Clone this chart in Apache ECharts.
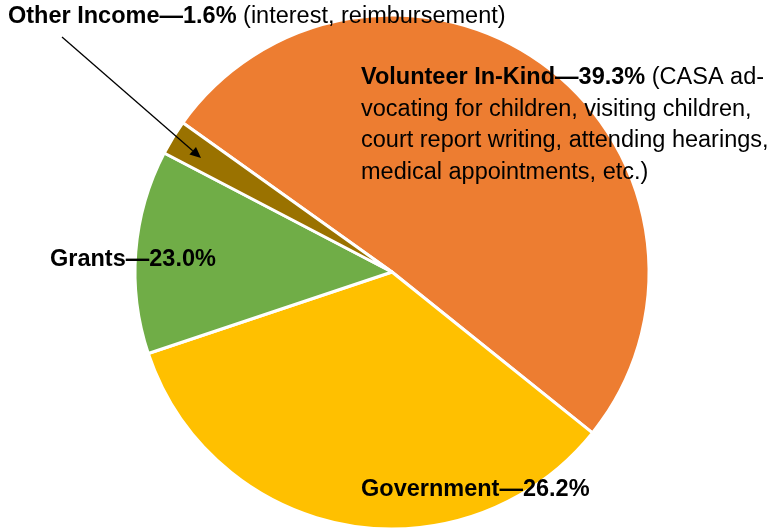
<!DOCTYPE html>
<html lang="en">
<head>
    <meta charset="UTF-8">
    <title>CASA Income</title>
    <script src="https://cdn.jsdelivr.net/npm/echarts@6/dist/echarts.min.js"></script>
    <style>
        html, body { margin: 0; padding: 0; background: #fff; }
        #container { width: 776px; height: 529px; }
    </style>
</head>
<body>
<div id="container"></div>
<script>
    // slices in clockwise order, starting from upper-left
    var names = ['Volunteer In-Kind', 'Government', 'Grants', 'Other Income'];
    var shares = [50.9, 34.1, 12.8, 2.2];          // slice sizes as drawn
    var pctLabels = ['39.3%', '26.2%', '23.0%', '1.6%'];  // printed percentages
    var notes = [
        ' (CASA ad-\nvocating for children, visiting children,\ncourt report writing, attending hearings,\nmedical appointments, etc.)',
        '',
        '',
        ' (interest, reimbursement)'
    ];
    var colors = ['#ED7D31', '#FFC000', '#70AD47', '#9A7200'];

    // where each label sits: left x, centre y of first line
    var labelPos = [[361, 78], [361, 490], [50, 260], [8, 17]];

    var font = '"Liberation Sans", Arial, sans-serif';
    var fs = 23.5, lh = 31.5;

    function labelText(i) {
        var s = '{b|' + names[i] + '—' + pctLabels[i] + '}';
        if (notes[i]) {
            var parts = notes[i].split('\n');
            s += '{n|' + parts[0] + '}';
            for (var k = 1; k < parts.length; k++) {
                s += '\n{n|' + parts[k] + '}';
            }
        }
        return s;
    }

    var data = [];
    for (var i = 0; i < names.length; i++) {
        data.push({
            name: names[i],
            value: shares[i],
            itemStyle: { color: colors[i] }
        });
    }

    var texts = [];
    for (var j = 0; j < names.length; j++) {
        texts.push({
            type: 'text',
            x: labelPos[j][0],
            y: labelPos[j][1] - lh / 2,
            z: 10,
            style: {
                text: labelText(j),
                align: 'left',
                verticalAlign: 'top',
                rich: {
                    b: { fontFamily: font, fontSize: fs, fontWeight: 'bold', fill: '#000', lineHeight: lh },
                    n: { fontFamily: font, fontSize: fs, fill: '#000', lineHeight: lh }
                }
            }
        });
    }

    // arrow from the Other Income label into its slice
    var a0 = [62, 37], a1 = [201, 158];
    var ang = Math.atan2(a1[1] - a0[1], a1[0] - a0[0]);
    var hl = 11, hw = 5;
    var back = [a1[0] - hl * Math.cos(ang), a1[1] - hl * Math.sin(ang)];
    var head = [
        a1,
        [back[0] + hw * Math.sin(ang), back[1] - hw * Math.cos(ang)],
        [back[0] - hw * Math.sin(ang), back[1] + hw * Math.cos(ang)]
    ];

    var options = {
        backgroundColor: '#ffffff',
        animation: false,
        series: [
            {
                type: 'pie',
                center: [392, 272],
                radius: 257,
                startAngle: 144.5,
                clockwise: true,
                data: data,
                itemStyle: {
                    borderColor: '#ffffff',
                    borderWidth: 3
                },
                label: { show: false },
                labelLine: { show: false }
            }
        ],
        graphic: texts.concat([
            {
                type: 'line',
                shape: { x1: a0[0], y1: a0[1], x2: back[0], y2: back[1] },
                style: { stroke: '#000', lineWidth: 1.3 },
                z: 10
            },
            {
                type: 'polygon',
                shape: { points: head },
                style: { fill: '#000' },
                z: 10
            }
        ])
    };

    var myChart = echarts.init(document.getElementById('container'));
    myChart.setOption(options);
</script>
</body>
</html>
